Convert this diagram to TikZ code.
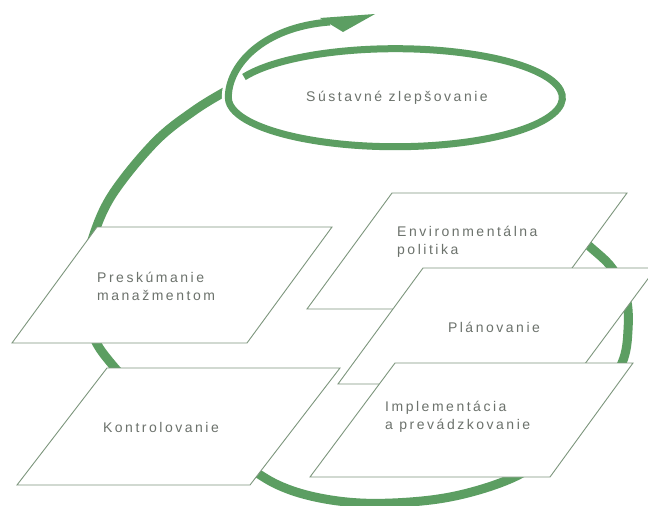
\documentclass[tikz,border=0pt]{standalone}
\usepackage{fontspec}
\setmainfont{Liberation Sans}
\newfontfamily\lblfont[LetterSpace=18]{Liberation Sans}
\definecolor{loopgreen}{RGB}{92,158,98}
\definecolor{edgegray}{RGB}{125,150,125}
\definecolor{txtgray}{RGB}{108,114,108}
\begin{document}
\begin{tikzpicture}[x=1pt,y=1pt,
  box/.style={draw=edgegray, line width=0.9pt, fill=white, line join=miter},
  lbl/.style={text=txtgray, font=\lblfont\fontsize{14}{18}\selectfont, align=left, inner sep=0pt},
  band/.style={draw=loopgreen, line width=9pt},
  spiralband/.style={draw=loopgreen, line width=7pt},
  casing/.style={draw=white, line width=13pt},
]
\useasboundingbox (0,0) rectangle (648,-506);
\fill[white] (0,0) rectangle (648,-506);

% big PDCA loop, drawn behind the boxes
\draw[band] plot[smooth, tension=0.6] coordinates {
  (560,-220) (588,-245) (612,-268) (626,-297) (628,-330) (622,-363)
  (598,-402) (565,-440) (532,-467) (500,-483) (455,-496) (410,-502)
  (360,-503) (315,-497) (278,-485) (245,-465) (200,-435) (160,-405)
  (130,-383) (110,-362) (95,-340) (86,-310) (85,-275) (92,-240)
  (112,-195) (155,-142) (195,-110) (228,-90)};

% boxes
\draw[box] (97,-227) -- (332,-227) -- (247,-343) -- (12,-343) -- cycle;
\draw[box] (107,-368) -- (340,-368) -- (250,-485) -- (17,-485) -- cycle;
\draw[box] (392,-193) -- (627,-193) -- (542,-309) -- (307,-309) -- cycle;
\draw[box] (423,-268) -- (656,-268) -- (570,-384) -- (338,-384) -- cycle;
\draw[box] (395,-363) -- (633,-363) -- (550,-477) -- (310,-477) -- cycle;

% continual improvement spiral
\path[casing] (244,-77) arc[start angle=155, end angle=-180, x radius=167, y radius=49]
  .. controls (228,-66) and (262,-27) .. (330,-22);
\path[spiralband] (244,-77) arc[start angle=155, end angle=-180, x radius=167, y radius=49]
  .. controls (228,-66) and (262,-27) .. (330,-22);
\fill[loopgreen] (320,-18) -- (375,-14) -- (343,-32) -- cycle;

% labels
\node[lbl] (sustavne) at (397,-98) {Sústavné zlepšovanie};
\node[lbl, anchor=west] (preskumanie) at (97,-286) {Preskúmanie\\manažmentom};
\node[lbl, anchor=west] (politika) at (397,-242) {Environmentálna\\politika};
\node[lbl] (planovanie) at (494,-327) {Plánovanie};
\node[lbl, anchor=west] (implementacia) at (385,-417) {Implementácia\\a prevádzkovanie};
\node[lbl] (kontrolovanie) at (161,-427) {Kontrolovanie};
\end{tikzpicture}
\end{document}
